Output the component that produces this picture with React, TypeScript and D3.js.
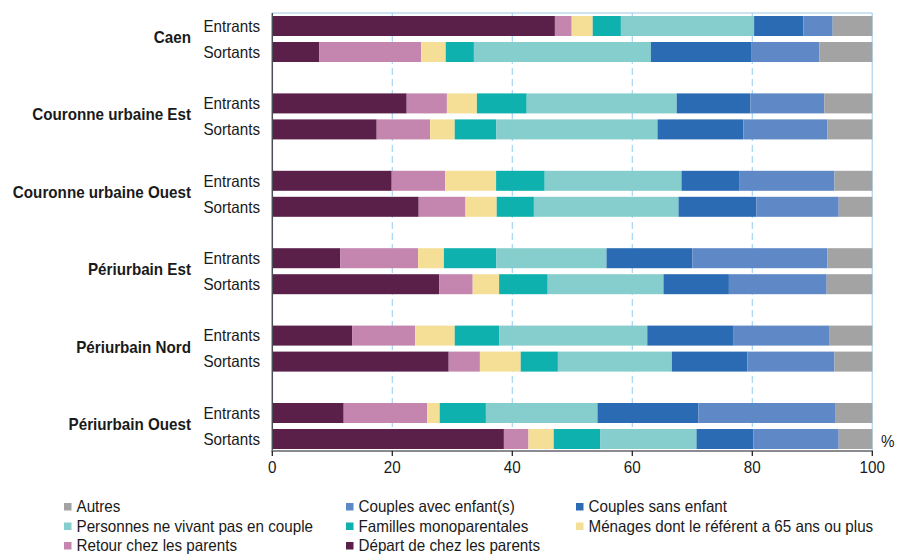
import React from "react";
import * as d3 from "d3";

const groups = [
  "Caen",
  "Couronne urbaine Est",
  "Couronne urbaine Ouest",
  "Périurbain Est",
  "Périurbain Nord",
  "Périurbain Ouest",
];
const flows = ["Entrants", "Sortants"];

// values per bar, in order: Caen E, Caen S, CUE E, CUE S, CUO E, CUO S, PE E, PE S, PN E, PN S, PO E, PO S
const depart = [47.1, 7.8, 22.4, 17.4, 19.9, 24.4, 11.3, 27.8, 13.3, 29.4, 11.9, 38.6];
const retour = [2.8, 17.0, 6.7, 8.9, 8.9, 7.8, 13.0, 5.6, 10.5, 5.2, 13.9, 4.1];
const menages65 = [3.5, 4.1, 5.0, 4.1, 8.5, 5.2, 4.3, 4.4, 6.6, 6.8, 2.1, 4.2];
const familles = [4.7, 4.7, 8.3, 6.9, 8.1, 6.2, 8.7, 8.1, 7.4, 6.2, 7.7, 7.8];
const personnes = [22.2, 29.5, 25.0, 26.9, 22.8, 24.1, 18.4, 19.3, 24.7, 19.0, 18.6, 16.0];
const sansEnfant = [8.2, 16.8, 12.3, 14.3, 9.7, 13.0, 14.3, 10.9, 14.4, 12.6, 16.8, 9.5];
const avecEnfants = [4.9, 11.3, 12.3, 14.0, 15.8, 13.7, 22.5, 16.3, 16.0, 14.5, 22.9, 14.2];
const autres = [6.6, 8.8, 8.0, 7.5, 6.3, 5.6, 7.5, 7.6, 7.1, 6.3, 6.1, 5.6];

const xTicks = [0, 20, 40, 60, 80, 100];

const seriesKeys = [
  "Départ de chez les parents",
  "Retour chez les parents",
  "Ménages dont le référent a 65 ans ou plus",
  "Familles monoparentales",
  "Personnes ne vivant pas en couple",
  "Couples sans enfant",
  "Couples avec enfant(s)",
  "Autres",
];
const seriesValues = [depart, retour, menages65, familles, personnes, sansEnfant, avecEnfants, autres];
const seriesColors = ["#5A2049", "#C486AE", "#F5DF97", "#0EB1AE", "#86CECD", "#2B6BB3", "#5E88C6", "#A3A3A3"];

const legendOrder = [
  "Autres",
  "Couples avec enfant(s)",
  "Couples sans enfant",
  "Personnes ne vivant pas en couple",
  "Familles monoparentales",
  "Ménages dont le référent a 65 ans ou plus",
  "Retour chez les parents",
  "Départ de chez les parents",
];

type Row = { group: string; flow: string; [k: string]: any };

const rows: Row[] = [];
groups.forEach((g, gi) => {
  flows.forEach((f, fi) => {
    const r: Row = { group: g, flow: f };
    seriesKeys.forEach((k, si) => {
      r[k] = seriesValues[si][gi * 2 + fi];
    });
    rows.push(r);
  });
});

const FONT = "'Liberation Sans', Arial, Helvetica, sans-serif";
const FS = 16.3;
const SX = 0.933;

function Label(props: { x: number; y: number; anchor?: string; bold?: boolean; children: any }) {
  const { x, y, anchor, bold, children } = props;
  return (
    <text
      transform={`translate(${x},${y}) scale(${SX},1)`}
      textAnchor={anchor || "start"}
      fontSize={FS}
      fontWeight={bold ? "bold" : "normal"}
      fill="#1a1a1a"
    >
      {children}
    </text>
  );
}

export default function App() {
  const W = 905;
  const H = 555;
  const left = 272.3;
  const right = 872.3;
  const top = 13;
  const bottom = 451;

  const x = d3.scaleLinear().domain([0, 100]).range([left, right]);
  const groupY = d3.scaleBand<string>().domain(groups).range([0.3, 0.3 + 6 * 77.4]);
  const flowY = d3
    .scaleBand<string>()
    .domain(flows)
    .range([15.7, 61.7])
    .paddingInner(6 / 26);

  const stack = d3.stack<Row>().keys(seriesKeys);
  const stacked = stack(rows);
  const color = d3.scaleOrdinal<string, string>().domain(seriesKeys).range(seriesColors);

  const barY = (r: Row) => (groupY(r.group) as number) + (flowY(r.flow) as number);
  const bw = flowY.bandwidth();

  const legendColX = [64, 346, 576];
  const legendRowY = [512, 531.5, 551];

  return (
    <svg
      width={W}
      height={H}
      style={{ position: "absolute", left: 0, top: 0, background: "#fff" }}
      fontFamily={FONT}
    >
      {/* frame */}
      <line x1={left} x2={right} y1={top} y2={top} stroke="#BBDAEF" strokeWidth={1.5} />
      <line x1={right} x2={right} y1={top} y2={bottom} stroke="#BBDAEF" strokeWidth={1.5} />
      {/* gridlines */}
      {xTicks
        .filter((t) => t > 0 && t < 100)
        .map((t) => (
          <line
            key={"g" + t}
            x1={x(t)}
            x2={x(t)}
            y1={top}
            y2={bottom}
            stroke="#A6D3F2"
            strokeWidth={1.2}
            strokeDasharray="7,4"
          />
        ))}
      {/* bars */}
      {stacked.map((s) => (
        <g key={s.key} fill={color(s.key)}>
          {s.map((d, i) => (
            <rect
              key={i}
              x={x(d[0])}
              width={Math.max(0, x(d[1]) - x(d[0]))}
              y={barY(d.data)}
              height={bw}
            />
          ))}
        </g>
      ))}
      {/* axes */}
      <line x1={left} x2={left} y1={top} y2={bottom + 1} stroke="#4D4D55" strokeWidth={1.5} />
      <line x1={left} x2={right + 0.7} y1={bottom} y2={bottom} stroke="#8A8A90" strokeWidth={2} />
      {xTicks.map((t) => (
        <g key={"t" + t}>
          <line x1={x(t)} x2={x(t)} y1={bottom} y2={bottom + 5} stroke="#222" strokeWidth={1.3} />
          <Label x={x(t)} y={473} anchor="middle">
            {t}
          </Label>
        </g>
      ))}
      <Label x={881} y={447}>%</Label>
      {/* flow labels */}
      {rows.map((r, i) => (
        <Label key={"f" + i} x={260} y={barY(r) + bw / 2 + 5.8} anchor="end">
          {r.flow}
        </Label>
      ))}
      {/* group labels */}
      {groups.map((g) => (
        <Label key={"gl" + g} x={191} y={(groupY(g) as number) + (15.7 + 61.7) / 2 + 4} anchor="end" bold>
          {g}
        </Label>
      ))}
      {/* legend */}
      {legendOrder.map((k, i) => {
        const cx = legendColX[i % 3];
        const cy = legendRowY[Math.floor(i / 3)];
        return (
          <g key={"l" + k}>
            <rect x={cx} y={cy - 9} width={7.5} height={7.5} fill={color(k)} />
            <Label x={cx + 12.5} y={cy}>
              {k}
            </Label>
          </g>
        );
      })}
    </svg>
  );
}
